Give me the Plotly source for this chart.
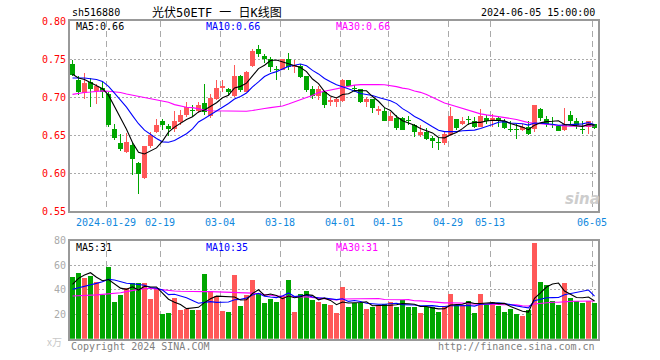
import plotly.graph_objects as go

# ---------------- data ----------------
dates = [
    "2024-01-19", "2024-01-22", "2024-01-23", "2024-01-24", "2024-01-25", "2024-01-26",
    "2024-01-29", "2024-01-30", "2024-01-31", "2024-02-01", "2024-02-02", "2024-02-05",
    "2024-02-06", "2024-02-07", "2024-02-08", "2024-02-19", "2024-02-20", "2024-02-21",
    "2024-02-22", "2024-02-23", "2024-02-26", "2024-02-27", "2024-02-28", "2024-02-29",
    "2024-03-01", "2024-03-04", "2024-03-05", "2024-03-06", "2024-03-07", "2024-03-08",
    "2024-03-11", "2024-03-12", "2024-03-13", "2024-03-14", "2024-03-15", "2024-03-18",
    "2024-03-19", "2024-03-20", "2024-03-21", "2024-03-22", "2024-03-25", "2024-03-26",
    "2024-03-27", "2024-03-28", "2024-03-29", "2024-04-01", "2024-04-02", "2024-04-03",
    "2024-04-08", "2024-04-09", "2024-04-10", "2024-04-11", "2024-04-12", "2024-04-15",
    "2024-04-16", "2024-04-17", "2024-04-18", "2024-04-19", "2024-04-22", "2024-04-23",
    "2024-04-24", "2024-04-25", "2024-04-26", "2024-04-29", "2024-04-30", "2024-05-06",
    "2024-05-07", "2024-05-08", "2024-05-09", "2024-05-10", "2024-05-13", "2024-05-14",
    "2024-05-15", "2024-05-16", "2024-05-17", "2024-05-20", "2024-05-21", "2024-05-22",
    "2024-05-23", "2024-05-24", "2024-05-27", "2024-05-28", "2024-05-29", "2024-05-30",
    "2024-05-31", "2024-06-03", "2024-06-04", "2024-06-05",
]

opens = [0.744, 0.723, 0.705, 0.720, 0.708, 0.712, 0.704, 0.658, 0.640, 0.627,
         0.637, 0.613, 0.594, 0.635, 0.654, 0.668, 0.662, 0.658, 0.667, 0.676,
         0.683, 0.681, 0.692, 0.675, 0.698, 0.712, 0.711, 0.701, 0.728, 0.707,
         0.741, 0.763, 0.754, 0.750, 0.737, 0.736, 0.750, 0.739, 0.741, 0.727,
         0.710, 0.701, 0.707, 0.694, 0.694, 0.695, 0.722, 0.712, 0.710, 0.694,
         0.697, 0.682, 0.682, 0.669, 0.673, 0.673, 0.670, 0.663, 0.650, 0.654,
         0.646, 0.640, 0.639, 0.650, 0.671, 0.665, 0.671, 0.668, 0.661, 0.673,
         0.668, 0.673, 0.668, 0.658, 0.658, 0.657, 0.660, 0.658, 0.684, 0.671,
         0.664, 0.662, 0.657, 0.676, 0.668, 0.658, 0.660, 0.664]

closes = [0.729, 0.706, 0.719, 0.710, 0.714, 0.706, 0.663, 0.646, 0.632, 0.641,
          0.618, 0.599, 0.635, 0.650, 0.663, 0.663, 0.658, 0.668, 0.676, 0.687,
          0.681, 0.690, 0.680, 0.699, 0.712, 0.714, 0.707, 0.728, 0.709, 0.733,
          0.761, 0.756, 0.750, 0.740, 0.736, 0.750, 0.740, 0.742, 0.726, 0.709,
          0.701, 0.710, 0.690, 0.696, 0.697, 0.723, 0.715, 0.711, 0.694, 0.698,
          0.685, 0.684, 0.669, 0.675, 0.659, 0.657, 0.669, 0.654, 0.654, 0.645,
          0.642, 0.639, 0.651, 0.675, 0.659, 0.668, 0.670, 0.661, 0.675, 0.668,
          0.673, 0.668, 0.659, 0.657, 0.657, 0.661, 0.651, 0.689, 0.672, 0.665,
          0.663, 0.655, 0.664, 0.668, 0.663, 0.657, 0.668, 0.659]

highs = [0.749, 0.727, 0.731, 0.725, 0.717, 0.720, 0.706, 0.665, 0.651, 0.652,
         0.641, 0.615, 0.636, 0.654, 0.671, 0.671, 0.665, 0.682, 0.683, 0.694,
         0.689, 0.694, 0.717, 0.704, 0.722, 0.722, 0.712, 0.742, 0.729, 0.734,
         0.763, 0.768, 0.756, 0.752, 0.741, 0.750, 0.758, 0.749, 0.744, 0.727,
         0.714, 0.714, 0.708, 0.700, 0.700, 0.724, 0.722, 0.716, 0.711, 0.700,
         0.698, 0.688, 0.685, 0.680, 0.676, 0.674, 0.675, 0.664, 0.663, 0.659,
         0.649, 0.646, 0.655, 0.687, 0.671, 0.674, 0.675, 0.674, 0.684, 0.676,
         0.677, 0.675, 0.671, 0.668, 0.665, 0.664, 0.668, 0.690, 0.685, 0.675,
         0.674, 0.663, 0.685, 0.682, 0.673, 0.668, 0.668, 0.665]

lows = [0.727, 0.703, 0.697, 0.687, 0.691, 0.699, 0.661, 0.643, 0.629, 0.626,
        0.597, 0.572, 0.592, 0.633, 0.652, 0.657, 0.649, 0.654, 0.663, 0.674,
        0.674, 0.679, 0.676, 0.672, 0.696, 0.707, 0.703, 0.700, 0.707, 0.706,
        0.740, 0.753, 0.745, 0.733, 0.723, 0.735, 0.736, 0.731, 0.725, 0.706,
        0.698, 0.696, 0.686, 0.688, 0.687, 0.694, 0.714, 0.707, 0.692, 0.687,
        0.679, 0.676, 0.668, 0.668, 0.657, 0.656, 0.663, 0.647, 0.648, 0.643,
        0.633, 0.630, 0.637, 0.649, 0.657, 0.663, 0.663, 0.659, 0.660, 0.665,
        0.661, 0.660, 0.658, 0.654, 0.645, 0.655, 0.650, 0.654, 0.668, 0.660,
        0.659, 0.655, 0.655, 0.665, 0.658, 0.651, 0.651, 0.658]

volumes = [50.0, 53.7, 49.9, 51.5, 46.0, 35.7, 58.8, 30.3, 35.7, 41.2,
           45.8, 45.8, 45.8, 32.7, 41.2, 20.5, 21.3, 33.6, 23.5, 24.3,
           23.5, 23.5, 52.9, 39.0, 34.9, 22.7, 21.9, 52.0, 27.0, 35.7,
           48.0, 37.1, 29.2, 32.5, 30.0, 34.9, 48.0, 21.9, 36.5, 39.0,
           31.7, 30.0, 28.4, 27.6, 21.3, 42.5, 26.2, 28.9, 28.9, 24.3,
           26.2, 27.6, 28.4, 30.3, 26.2, 31.7, 26.2, 26.2, 21.3, 26.2,
           26.2, 22.1, 27.0, 36.5, 27.6, 27.6, 30.8, 21.3, 36.5, 28.4,
           30.3, 27.0, 22.1, 24.3, 20.2, 18.9, 23.5, 78.4, 46.6, 43.9,
           30.8, 27.6, 45.8, 33.6, 30.8, 29.5, 30.8, 29.5]

# moving-average values at the left edge (history before the window)
ma5_head = [0.730, 0.725, 0.723, 0.719]
ma10_head = [0.725, 0.725, 0.725, 0.724, 0.723, 0.7205, 0.714, 0.705, 0.696]
ma30_head = [0.7035, 0.705, 0.706, 0.7065, 0.707, 0.708, 0.7075, 0.707, 0.706, 0.704,
             0.7025, 0.701, 0.699, 0.698, 0.696, 0.694, 0.693, 0.690, 0.688, 0.6865,
             0.686, 0.684, 0.683, 0.682, 0.682, 0.682, 0.682, 0.682, 0.682]
vma5_head = [44.4, 49.3, 52.0, 53.9]
vma10_head = [40.4, 41.5, 42.5, 44.0, 45.2, 46.5, 48.5, 48.0, 46.5]
vma30_head = [34.9, 35.0, 35.2, 35.5, 35.8, 36.2, 36.6, 37.0, 37.5, 38.5,
              39.5, 40.3, 40.8, 41.2, 40.5, 39.8, 39.3, 39.0, 38.8, 38.6,
              38.5, 38.5, 38.5, 38.5, 38.4, 38.3, 38.2, 38.1, 38.0]

tick_dates = ["2024-01-29", "2024-02-19", "2024-03-04", "2024-03-18", "2024-04-01",
              "2024-04-15", "2024-04-29", "2024-05-13", "2024-06-05"]
price_ticks = [0.55, 0.60, 0.65, 0.70, 0.75, 0.80]
volume_ticks = [20, 40, 60, 80]
price_ma_labels = ["MA5:0.66", "MA10:0.66", "MA30:0.66"]
volume_ma_labels = ["MA5:31", "MA10:35", "MA30:31"]

# ---------------- helpers ----------------
def moving_avg(vals, n, head):
    return list(head) + [sum(vals[i - n + 1:i + 1]) / n for i in range(n - 1, len(vals))]

W, H = 660, 360
RED, GREEN = "#FF5858", "#00A600"
MONO = "DejaVu Sans Mono, Liberation Mono, monospace"

n = len(dates)
xs = list(range(n))
up = [c >= o for o, c in zip(opens, closes)]
colors = [RED if u else GREEN for u in up]
body_base = [min(o, c) for o, c in zip(opens, closes)]
body_h = [max(abs(c - o), 0.0013) for o, c in zip(opens, closes)]
wick_h = [h - l for h, l in zip(highs, lows)]

ma5 = moving_avg(closes, 5, ma5_head)
ma10 = moving_avg(closes, 10, ma10_head)
ma30 = moving_avg(closes, 30, ma30_head)
vma5 = moving_avg(volumes, 5, vma5_head)
vma10 = moving_avg(volumes, 10, vma10_head)
vma30 = moving_avg(volumes, 30, vma30_head)

fig = go.Figure()
# wicks
fig.add_trace(go.Bar(x=xs, y=wick_h, base=lows, width=0.17, marker=dict(color=colors, line=dict(width=0)),
                     xaxis="x", yaxis="y", hoverinfo="skip"))
# bodies
fig.add_trace(go.Bar(x=xs, y=body_h, base=body_base, width=0.83, marker=dict(color=colors, line=dict(width=0)),
                     xaxis="x", yaxis="y", hoverinfo="skip"))
for vals, col in ((ma30, "#FF00FF"), (ma10, "#0000FF"), (ma5, "#000000")):
    fig.add_trace(go.Scatter(x=xs, y=vals, mode="lines", line=dict(color=col, width=1.1),
                             xaxis="x", yaxis="y", hoverinfo="skip"))
# volume
fig.add_trace(go.Bar(x=xs, y=volumes, width=0.83, marker=dict(color=colors, line=dict(width=0)),
                     xaxis="x2", yaxis="y2", hoverinfo="skip"))
for vals, col in ((vma30, "#FF00FF"), (vma10, "#0000FF"), (vma5, "#000000")):
    fig.add_trace(go.Scatter(x=xs, y=vals, mode="lines", line=dict(color=col, width=1.1),
                             xaxis="x2", yaxis="y2", hoverinfo="skip"))

tickpos = [dates.index(d) - 0.417 for d in tick_dates]
ticktext = [tick_dates[0]] + [d[5:] for d in tick_dates[1:]]
xdom = [70 / W, 598 / W]
xrange_ = [-0.417, n - 0.417]

common_x = dict(range=xrange_, domain=xdom, tickvals=tickpos, showgrid=True, gridcolor="#AAAAAA",
                griddash="6px,4px", gridwidth=1, zeroline=False, showline=True, mirror=True,
                linecolor="#999999", linewidth=2, ticks="", fixedrange=True, automargin=False)
common_y = dict(showgrid=True, gridcolor="#AAAAAA", griddash="2px,2px", gridwidth=1, zeroline=False,
                showline=True, mirror=True, linecolor="#999999", linewidth=2, ticks="", fixedrange=True,
                automargin=False)

fig.update_layout(
    width=W, height=H, margin=dict(l=0, r=0, t=0, b=0, pad=0, autoexpand=False),
    plot_bgcolor="white", paper_bgcolor="white", showlegend=False,
    barmode="overlay", bargap=0,
    xaxis=dict(anchor="y", ticktext=ticktext, tickfont=dict(family=MONO, size=10, color="#1188DD"),
               ticklabelstandoff=1, **common_x),
    xaxis2=dict(anchor="y2", showticklabels=False, **common_x),
    yaxis=dict(domain=[1 - 211 / H, 1 - 21 / H], range=[0.55, 0.80], tickvals=price_ticks,
               ticktext=["%.2f" % t for t in price_ticks],
               tickfont=dict(family=MONO, size=10, color="#FF0000"), **common_y),
    yaxis2=dict(domain=[1 - 338.8 / H, 1 - 240.7 / H], range=[0, 80], tickvals=volume_ticks,
                ticktext=[str(t) for t in volume_ticks],
                tickfont=dict(family=MONO, size=10, color="#AAAAAA"), **common_y),
)

def ann(text, px, py, color="#000000", size=10, xanchor="left", family=MONO, **kw):
    fig.add_annotation(text=text, x=px / W, y=1 - py / H, xref="paper", yref="paper",
                       xanchor=xanchor, yanchor="middle", showarrow=False,
                       font=dict(family=family, size=size, color=color), **kw)

ann("sh516880", 70, 13)
ann("光伏50ETF 一 日K线图", 217, 13, size=12, xanchor="center",
    family="DejaVu Sans Mono, Noto Sans CJK SC")
ann(dates[-1] + " 15:00:00", 597, 13, xanchor="right")
ann(price_ma_labels[0], 74, 27, "#000000")
ann(price_ma_labels[1], 204, 27, "#0000FF")
ann(price_ma_labels[2], 334, 27, "#FF00FF")
ann(volume_ma_labels[0], 74, 247, "#000000")
ann(volume_ma_labels[1], 204, 247, "#0000FF")
ann(volume_ma_labels[2], 334, 247, "#FF00FF")
ann("Copyright 2024 SINA.COM", 69, 346, "#808080")
ann("http://finance.sina.com.cn", 597, 346, "#808080", xanchor="right")
ann("x万", 64, 341, "#C8C8C8", xanchor="right", family="Noto Sans CJK SC")
ann("<b><i>sina</i></b>", 582, 199, "#CDCDCD", size=15, xanchor="center", family="DejaVu Sans")

fig.write_html("out.html", config={"displayModeBar": False, "staticPlot": True},
               post_script="document.body.style.margin='0';document.body.style.padding='0';")
